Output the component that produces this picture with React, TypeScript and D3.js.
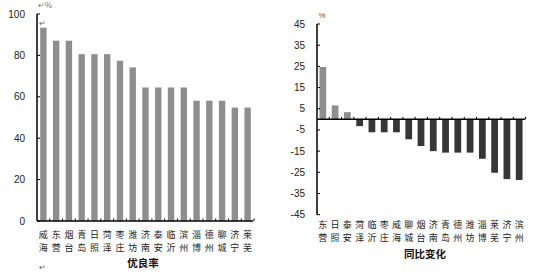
import React from "react";
import * as d3 from "d3";

const leftCats = ["威海","东营","烟台","青岛","日照","菏泽","枣庄","潍坊","济南","泰安","临沂","滨州","淄博","德州","聊城","济宁","莱芜"];
const leftValues = [93.4, 87.1, 87.1, 80.6, 80.6, 80.6, 77.4, 74.2, 64.5, 64.5, 64.5, 64.5, 58.1, 58.1, 58.1, 54.8, 54.8];
const leftTicks = [0, 20, 40, 60, 80, 100];

const rightCats = ["东营","日照","泰安","菏泽","临沂","枣庄","威海","聊城","烟台","济南","青岛","德州","潍坊","淄博","莱芜","济宁","滨州"];
const rightValues = [24.7, 6.6, 3.4, -3.2, -6.1, -6.1, -6.1, -9.4, -12.6, -15.0, -15.7, -15.7, -15.7, -18.6, -25.2, -28.2, -28.6];
const rightTicks = [45, 35, 25, 15, 5, -5, -15, -25, -35, -45];

const FONT = "'Liberation Sans', Arial, sans-serif";
const CJK = "'Noto Sans CJK SC', sans-serif";
const GRAY = "#8e8e8e";
const DARK = "#363636";

export default function App() {
  const lx = d3.scaleBand<string>().domain(leftCats).range([37, 254]).paddingInner(0.5).paddingOuter(0.25);
  const ly = d3.scaleLinear().domain([0, 100]).range([221, 14]);
  const lStep = lx.step();
  const rx = d3.scaleBand<string>().domain(rightCats).range([317, 525]).paddingInner(0.45).paddingOuter(0.2);
  const ry = d3.scaleLinear().domain([-45, 45]).range([214.7, 24]);
  const rStep = rx.step();

  return (
    <svg width={550} height={273} style={{ position: "absolute", left: 0, top: 0, background: "#fff" }}>
      <rect width={550} height={273} fill="#fff" />
      {/* LEFT */}
      <text x={45} y={8} fontSize={8} fontFamily={CJK} fill="#777" textAnchor="middle">↵%</text>
      <text x={42} y={26} fontSize={8} fontFamily={CJK} fill="#666" textAnchor="middle">↵</text>
      {leftCats.map((c, i) => (
        <rect key={c} x={lx(c)} y={ly(leftValues[i])} width={lx.bandwidth()} height={ly(0) - ly(leftValues[i])} fill={GRAY} />
      ))}
      <line x1={37} x2={37} y1={ly(100)} y2={ly(0)} stroke="#000" strokeWidth={1.5} />
      <line x1={37} x2={253} y1={ly(0)} y2={ly(0)} stroke="#000" strokeWidth={1.5} />
      {leftTicks.map((t) => (
        <g key={t}>
          <line x1={37} x2={40} y1={ly(t)} y2={ly(t)} stroke="#000" />
          <text x={25} y={ly(t)} fontSize={10} fontFamily={FONT} fill="#222" textAnchor="end" dominantBaseline="central">{t}</text>
        </g>
      ))}
      {leftCats.map((c, i) => (
        <line key={"lt" + i} x1={37 + lStep * (i + 1)} x2={37 + lStep * (i + 1)} y1={ly(0)} y2={ly(0) - 2.5} stroke="#000" />
      ))}
      {leftCats.map((c) => {
        const cx = (lx(c) as number) + lx.bandwidth() / 2;
        return (
          <g key={"ll" + c}>
            <text x={cx} y={234} fontSize={9} fontFamily={CJK} fill="#222" textAnchor="middle" dominantBaseline="central">{c[0]}</text>
            <text x={cx} y={247} fontSize={9} fontFamily={CJK} fill="#222" textAnchor="middle" dominantBaseline="central">{c[1]}</text>
          </g>
        );
      })}
      <text x={143} y={262} fontSize={10.5} fontWeight="bold" fontFamily={CJK} fill="#111" textAnchor="middle" dominantBaseline="central">优良率</text>
      <text x={42} y={270} fontSize={8} fontFamily={CJK} fill="#666" textAnchor="middle">↵</text>

      {/* RIGHT */}
      <text x={322} y={18} fontSize={8} fontFamily={FONT} fill="#555" textAnchor="middle">%</text>
      {rightCats.map((c, i) => {
        const v = rightValues[i];
        return (
          <rect key={c} x={rx(c)} y={ry(Math.max(v, 0))} width={rx.bandwidth()} height={Math.abs(ry(v) - ry(0))} fill={v >= 0 ? GRAY : DARK} />
        );
      })}
      <line x1={317} x2={317} y1={ry(45)} y2={ry(-45)} stroke="#000" strokeWidth={1.5} />
      <line x1={317} x2={525} y1={ry(0)} y2={ry(0)} stroke="#000" strokeWidth={1.5} />
      {rightTicks.map((t) => (
        <g key={t}>
          <line x1={317} x2={320} y1={ry(t)} y2={ry(t)} stroke="#000" />
          <text x={305} y={ry(t)} fontSize={10} fontFamily={FONT} fill="#222" textAnchor="end" dominantBaseline="central">{t}</text>
        </g>
      ))}
      {rightCats.map((c, i) => (
        <line key={"rt" + i} x1={317 + rStep * (i + 1)} x2={317 + rStep * (i + 1)} y1={ry(0)} y2={ry(0) - 2.5} stroke="#000" />
      ))}
      {rightCats.map((c) => {
        const cx = (rx(c) as number) + rx.bandwidth() / 2;
        return (
          <g key={"rl" + c}>
            <text x={cx} y={224.5} fontSize={9} fontFamily={CJK} fill="#222" textAnchor="middle" dominantBaseline="central">{c[0]}</text>
            <text x={cx} y={237.5} fontSize={9} fontFamily={CJK} fill="#222" textAnchor="middle" dominantBaseline="central">{c[1]}</text>
          </g>
        );
      })}
      <text x={425} y={253.5} fontSize={10.5} fontWeight="bold" fontFamily={CJK} fill="#111" textAnchor="middle" dominantBaseline="central">同比变化</text>
    </svg>
  );
}
